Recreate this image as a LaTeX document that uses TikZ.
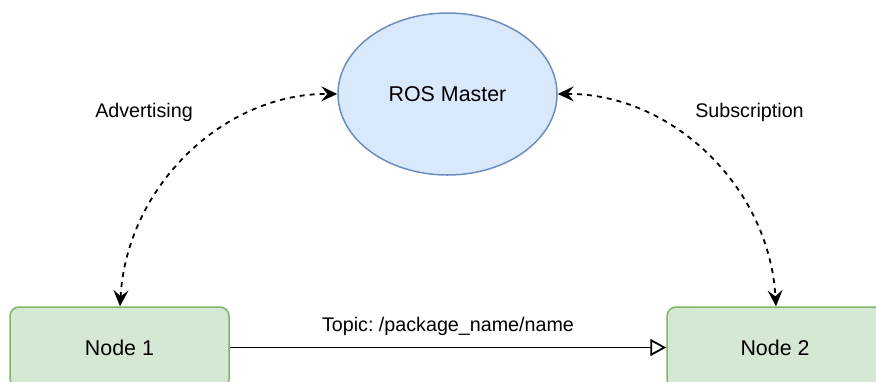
\documentclass[tikz,border=0pt]{standalone}
\usepackage{fontspec}
\setmainfont{Liberation Sans}
\usetikzlibrary{arrows.meta,shapes.geometric}

\definecolor{masterfill}{HTML}{DAE8FC}
\definecolor{masterline}{HTML}{6C8EBF}
\definecolor{nodefill}{HTML}{D5E8D4}
\definecolor{nodeline}{HTML}{82B366}

\tikzset{
  master/.style={ellipse, draw=masterline, fill=masterfill, line width=1.5pt,
    minimum width=219pt, minimum height=162pt, inner sep=0pt,
    font=\fontsize{21.4}{25}\selectfont},
  rosnode/.style={rectangle, rounded corners=9pt, draw=nodeline, fill=nodefill,
    line width=1.5pt, minimum height=81pt, inner sep=0pt,
    font=\fontsize{21.4}{25}\selectfont},
  lbl/.style={font=\fontsize{19.7}{23}\selectfont, inner sep=0pt},
  link/.style={dashed, dash pattern=on 5pt off 5pt, line width=1.8pt,
    {Stealth[length=16pt,width=15pt,inset=6pt]}-{Stealth[length=16pt,width=15pt,inset=6pt]}},
  topic/.style={line width=1.8pt, -{Triangle[open,length=16pt,width=17pt]}}
}

\begin{document}
\frenchspacing
\begin{tikzpicture}[x=1pt,y=-1pt]
  \useasboundingbox (0,0) rectangle (876,381);
  \clip (0,0) rectangle (876,381);

  % master and the two nodes
  \node[master] (ros) at (447.5,94) {ROS Master};
  \node[rosnode, minimum width=219pt] (n1) at (119.5,347.5) {Node 1};
  \node[rosnode, minimum width=216pt] (n2) at (775,347.5) {Node 2};

  % anchor points on the node borders for the curved links
  \coordinate (n1top) at ([xshift=0.5pt]n1.north);
  \coordinate (n2top) at ([xshift=1pt]n2.north);

  % registration with the master
  \draw[link] (n1top) .. controls (127,185) and (225,93) .. (ros.west);
  \draw[link] (ros.east) .. controls (670,93) and (769,185) .. (n2top);

  % topic connection
  \draw[topic] (n1.east) -- (n2.west)
    node[lbl, midway, above=11pt] (topiclbl) {Topic: /package\_name/name};

  % link labels
  \node[lbl] (adv) at (144,112) {Advertising};
  \node[lbl] (sub) at (749.5,112) {Subscription};
\end{tikzpicture}
\end{document}
